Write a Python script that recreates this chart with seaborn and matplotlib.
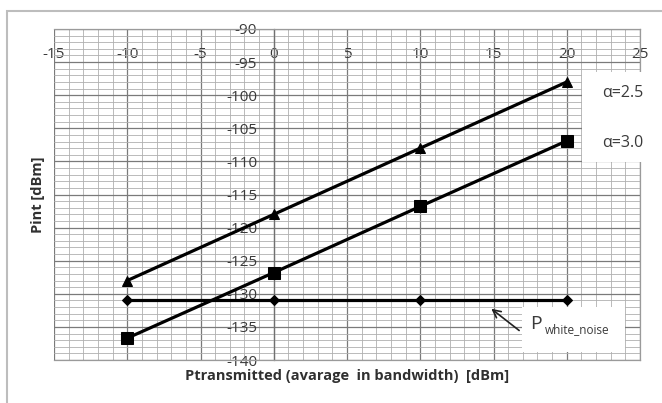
import numpy as np
import pandas as pd
import matplotlib
matplotlib.use("Agg")
import matplotlib.pyplot as plt
import seaborn as sns
from matplotlib.patches import Rectangle
from matplotlib.ticker import MultipleLocator

# ---- data ----
p_tx = [-10, 0, 10, 20]
pint_a25 = [-128, -118, -108, -98]
pint_a30 = [-136.7, -126.8, -116.8, -106.9]
p_white_noise = [-131, -131, -131, -131]
x_ticks = [-15, -10, -5, 0, 5, 10, 15, 20, 25]
y_ticks = [-90, -95, -100, -105, -110, -115, -120, -125, -130, -135, -140]
series_labels = ["α=2.5", "α=3.0"]
noise_label = "white_noise"

sns.set_theme(style="white")
plt.rcParams["font.family"] = ["Open Sans", "DejaVu Sans"]
plt.rcParams["axes.unicode_minus"] = False

W, H = 662, 403
fig = plt.figure(figsize=(W / 100, H / 100), dpi=100)
L, R, T, B = 54, 640, 29, 360
ax = fig.add_axes([L / W, 1 - B / H, (R - L) / W, (B - T) / H])

df = pd.concat([
    pd.DataFrame({"x": p_tx, "y": pint_a25, "s": "a25"}),
    pd.DataFrame({"x": p_tx, "y": pint_a30, "s": "a30"}),
    pd.DataFrame({"x": p_tx, "y": p_white_noise, "s": "noise"}),
])
line_kw = dict(color="black", linewidth=2.3, markeredgecolor="black", zorder=5)
sns.lineplot(data=df[df.s == "a25"], x="x", y="y", marker="^", markersize=7.5, ax=ax, **line_kw)
sns.lineplot(data=df[df.s == "a30"], x="x", y="y", marker="s", markersize=8, ax=ax, **line_kw)
sns.lineplot(data=df[df.s == "noise"], x="x", y="y", marker="D", markersize=5, ax=ax, **line_kw)

ax.set_xlim(-15, 25)
ax.set_ylim(-140, -90)
ax.set_xticks(x_ticks)
ax.set_yticks(y_ticks)
ax.xaxis.set_minor_locator(MultipleLocator(1))
ax.yaxis.set_minor_locator(MultipleLocator(1))
ax.grid(which="major", color="#7a7a7a", linewidth=0.9)
ax.grid(which="minor", color="#b0b0b0", linewidth=0.6)
ax.set_axisbelow(True)

for s in ax.spines.values():
    s.set_color("#9a9a9a")
    s.set_linewidth(0.9)
ax.spines["left"].set_position(("data", 0))
ax.spines["left"].set_color("#707070")

tick_color = "#3a3a3a"
ax.xaxis.set_ticks_position("top")
ax.tick_params(axis="x", which="both", top=False, bottom=False, labeltop=True,
               labelbottom=False, pad=-24, labelsize=11, labelcolor=tick_color, length=0)
ax.tick_params(axis="y", which="both", left=False, labelleft=True, pad=12,
               labelsize=11, labelcolor=tick_color, length=0)

ax.set_xlabel("Ptransmitted (avarage  in bandwidth)  [dBm]", fontsize=10.5,
              fontweight="bold", color="#303030")
ax.xaxis.set_label_position("bottom")
ax.xaxis.set_label_coords(0.5, -0.027)
ax.xaxis.label.set_va("top")
ax.set_ylabel("Pint [dBm]", fontsize=10.5, fontweight="bold", color="#303030")
ax.yaxis.set_label_coords(-0.015, 0.5)

# legend-like white box with alpha labels
ax.add_patch(Rectangle((21.05, -110.1), 6, 13.6, facecolor="white", edgecolor="none",
                       zorder=3, clip_on=False))
ax.text(23.8, -99.6, series_labels[0], fontsize=11.5, color=tick_color, ha="center",
        va="center", zorder=6, clip_on=False)
ax.text(23.8, -107.2, series_labels[1], fontsize=11.5, color=tick_color, ha="center",
        va="center", zorder=6, clip_on=False)

# white noise label box and arrow
ax.add_patch(Rectangle((16.95, -138.8), 7.05, 6.8, facecolor="white", edgecolor="none", zorder=3))
ax.text(17.9, -134.5, "P", fontsize=14, color=tick_color, ha="center", va="center", zorder=6)
ax.text(18.5, -135.4, noise_label, fontsize=8.5, color=tick_color, ha="left", va="center", zorder=6)
ax.annotate("", xy=(14.7, -132.0), xytext=(16.9, -135.8),
            arrowprops=dict(arrowstyle="->", color="#202020", lw=1.2, mutation_scale=14),
            zorder=6)

# outer chart border
fig.patches.append(Rectangle((7 / W, -0.1), 1.2, 1 - 11 / H + 0.1, transform=fig.transFigure,
                             facecolor="none", edgecolor="#bdbdbd", linewidth=1.5))

fig.savefig("out.png", dpi=100)
